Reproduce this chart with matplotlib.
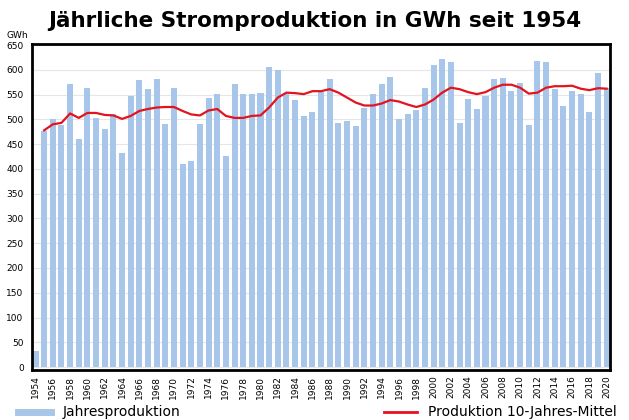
import numpy as np
import matplotlib.pyplot as plt
from matplotlib.lines import Line2D

years = list(range(1954, 2021))
production = [
    33, 476, 500, 488, 571, 461, 564, 503, 480, 510,   # 1954-1963
    433, 547, 580, 561, 581, 490, 564, 410, 416, 490,   # 1964-1973
    544, 551, 427, 572, 551, 552, 554, 606, 600, 552,   # 1974-1983
    540, 507, 515, 555, 581, 492, 497, 486, 524, 551,   # 1984-1993
    572, 586, 500, 510, 518, 564, 609, 621, 615, 492,   # 1994-2003
    542, 520, 547, 582, 584, 557, 574, 488, 618, 615,   # 2004-2013
    562, 527, 557, 552, 515, 593, 564,                  # 2014-2020
]
avg_years = list(range(1955, 2021))
avg10 = [
    478, 490, 493, 512, 503, 513, 513, 509, 508,        # 1955-1963
    501, 507, 517, 521, 524, 525, 525, 517, 510, 508,   # 1964-1973
    518, 521, 507, 503, 503, 507, 508, 524, 544, 554,   # 1974-1983
    553, 551, 557, 557, 561, 554, 544, 534, 528, 528,   # 1984-1993
    532, 539, 536, 530, 525, 530, 540, 554, 564, 561,   # 1994-2003
    555, 551, 555, 564, 570, 570, 564, 552, 554, 564,   # 2004-2013
    567, 567, 568, 562, 559, 563, 562,                  # 2014-2020
]

bar_color = "#a8c6ea"
line_color = "#e3141e"

fig = plt.figure(figsize=(6.29, 4.2), dpi=100)
ax = fig.add_axes([0.0509, 0.119, 0.9191, 0.776])

ax.bar(years, production, width=0.7, color=bar_color, zorder=2)
ax.plot(avg_years, avg10, color=line_color, lw=1.6, zorder=3)

ax.set_xlim(1953.6, 2020.4)
ax.set_ylim(-6, 652)
ax.set_yticks(range(0, 651, 50))
ax.set_xticks(range(1954, 2021, 2))
ax.tick_params(axis="y", labelsize=6.5, length=0, pad=6)
ax.tick_params(axis="x", labelsize=6.5, length=0, pad=4, labelrotation=90)
ax.grid(axis="y", color="#e6e6e6", lw=0.8, zorder=0)
for s in ax.spines.values():
    s.set_linewidth(2)
    s.set_color("black")

fig.text(0.5, 0.95, "Jährliche Stromproduktion in GWh seit 1954",
         ha="center", va="center", fontsize=15.5, fontweight="bold")
fig.text(0.011, 0.915, "GWh", fontsize=6.5, ha="left", va="center")

h1 = [Line2D([0], [0], color=bar_color, lw=5)]
h2 = [Line2D([0], [0], color=line_color, lw=2)]
fig.legend(h1, ["Jahresproduktion"], loc="center left",
           bbox_to_anchor=(0.02, 0.018), frameon=False, fontsize=10,
           handlelength=2.4, handletextpad=0.8, borderaxespad=0)
fig.legend(h2, ["Produktion 10-Jahres-Mittel"], loc="center right",
           bbox_to_anchor=(0.99, 0.018), frameon=False, fontsize=10,
           handlelength=2.4, handletextpad=0.8, borderaxespad=0)

fig.savefig("out.png", dpi=100)
